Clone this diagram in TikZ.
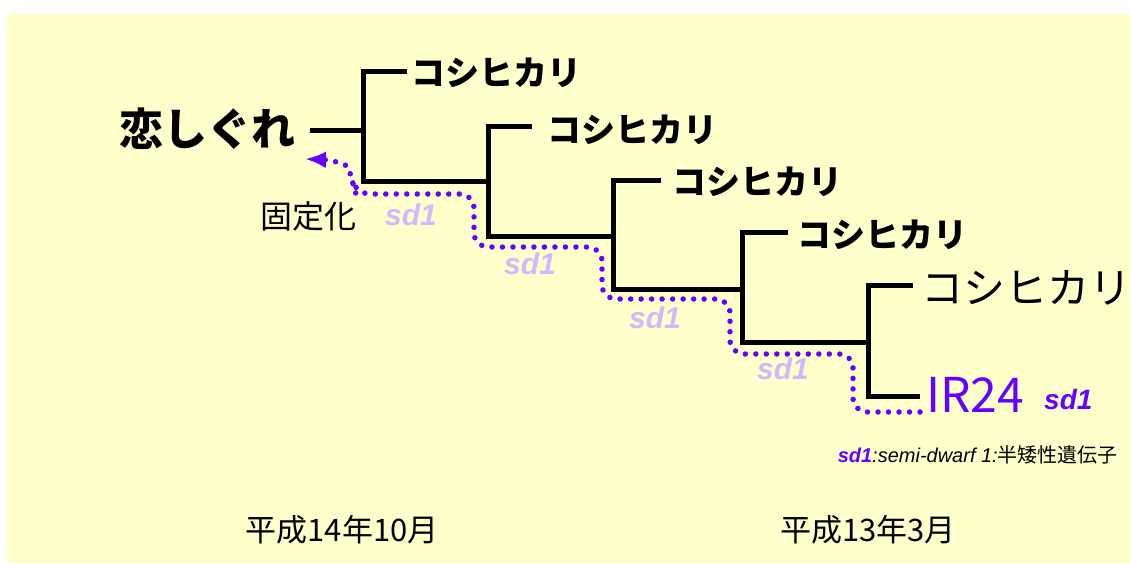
\documentclass[tikz,border=0pt]{standalone}
\usepackage{fontspec}
\setmainfont{Noto Sans CJK JP}
\newfontfamily\arial{Liberation Sans}
\usetikzlibrary{arrows.meta,positioning}

\definecolor{paper}{HTML}{FFFFCC}
\definecolor{sdpurple}{HTML}{6600FF}
\definecolor{sdpale}{HTML}{CCBBFF}

\tikzset{
  branch/.style={line width=5pt},
  rootname/.style={font=\bfseries\fontsize{44}{44}\selectfont, inner sep=0pt},
  kana/.style={font=\bfseries\fontsize{34}{34}\selectfont, inner sep=0pt},
  kanabig/.style={font=\fontsize{42}{42}\selectfont, inner sep=0pt},
  irname/.style={font=\fontsize{48}{48}\selectfont, text=sdpurple, inner sep=0pt},
  sdlabel/.style={font=\arial\bfseries\itshape\fontsize{28}{28}\selectfont, text=sdpurple, inner sep=0pt},
  sdmark/.style={font=\arial\bfseries\itshape\fontsize{30}{30}\selectfont, text=sdpale, inner sep=0pt},
  plain/.style={font=\fontsize{32}{32}\selectfont, inner sep=0pt},
  era/.style={font=\fontsize{31}{31}\selectfont, inner sep=0pt},
  note/.style={font=\fontsize{20}{20}\selectfont, inner sep=0pt},
  sdtrack/.style={sdpurple, line width=5.5pt, line cap=round, dash pattern=on 0pt off 10.5pt, rounded corners=14pt},
}

\begin{document}
\begin{tikzpicture}[x=1pt,y=-1pt]
			\useasboundingbox (0,0) rectangle (1130,563);
			\fill[paper] (7,14) rectangle (1130,563);

			% names
			\node[rootname, anchor=east] (koi) at (296,129) {恋しぐれ};
			\node[kana, anchor=west] (kh1) at (411,73) {コシヒカリ};
			\node[kana, anchor=west] (kh2) at (547,130) {コシヒカリ};
			\node[kana, anchor=west] (kh3) at (672,182) {コシヒカリ};
			\node[kana, anchor=west] (kh4) at (797,235) {コシヒカリ};
			\node[kanabig, anchor=west] (kh5) at (921,288) {コシヒカリ};
			\node[irname, anchor=base west] (ir24) at (926,412) {IR24};
			\node[sdlabel, anchor=base west] (irsd) at (1044,409) {sd1};

			% tree
			\coordinate (r0) at (310,130);
			\coordinate (c1) at (363,181);
			\coordinate (c2) at (488,236);
			\coordinate (c3) at (613,289);
			\coordinate (c4) at (742,342);
			\coordinate (c5) at (868,396);
			\coordinate (t1) at (407,71);
			\coordinate (t2) at (532,126);
			\coordinate (t3) at (661,180);
			\coordinate (t4) at (788,232);
			\coordinate (t5) at (913,285);
			\coordinate (t6) at (920,396);

			\draw[branch] (r0) -- (r0 -| c1);
			\draw[branch] (t1) -| (c1) -- (c1 -| c2);
			\draw[branch] (t2) -| (c2) -- (c2 -| c3);
			\draw[branch] (t3) -| (c3) -- (c3 -| c4);
			\draw[branch] (t4) -| (c4) -- (c4 -| c5);
			\draw[branch] (t5) -| (c5) -- (t6);

			% sd1 track
			\coordinate (trackend) at (920,412);
			\coordinate (fixtip) at (305,159);
			\draw[sdtrack, -{Latex[length=21pt,width=17pt]}] (trackend) -- (853,412) -- (853,354) -- (730,354)
				-- (730,299) -- (602,299) -- (602,247) -- (474,247) -- (474,194) -- (356,194)
				-- (352,180) .. controls (348,166) and (334,160) .. (fixtip);

			\node[sdmark] (sd1a) at (411,215) {sd1};
			\node[sdmark] (sd1b) at (530,264) {sd1};
			\node[sdmark] (sd1c) at (655,318) {sd1};
			\node[sdmark] (sd1d) at (783,369) {sd1};
			\node[plain] (kotei) at (308,216) {固定化};

			\node[note, anchor=east] (legend) at (1118,455)
				{{\arial\bfseries\itshape\color{sdpurple}sd1}{\arial\itshape :semi-dwarf 1:}半矮性遺伝子};
			\node[era] (heisei14) at (342,530) {平成14年10月};
			\node[era] (heisei13) at (868,530) {平成13年3月};
		\end{tikzpicture}
\end{document}
